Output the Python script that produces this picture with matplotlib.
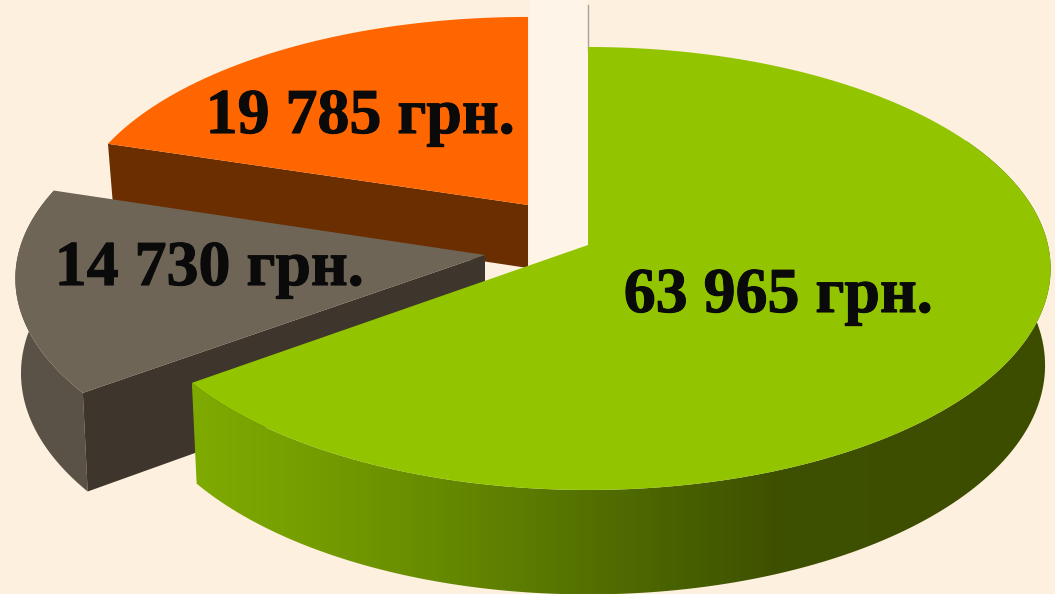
import numpy as np
import matplotlib
matplotlib.use("Agg")
import matplotlib.pyplot as plt
import matplotlib.patheffects as pe
from matplotlib.colors import LinearSegmentedColormap

names = ["green", "gray", "orange"]
values = [63965, 14730, 19785]
unit = "грн."

# layout of every exploded slice, in pixels
tips = {"green": (588, 245), "gray": (485, 255), "orange": (528, 205)}
radius_x = {"green": 460, "gray": 467, "orange": 455}
radius_y = {"green": 219, "gray": 219, "orange": 208}
depth = {"green": 96, "gray": 94, "orange": 63}
label_pos = {"green": (778, 297), "gray": (209, 270), "orange": (360, 118)}
top_col = {"green": "#92c500", "gray": "#6e6556", "orange": "#ff6600"}
front_col = {"gray": "#3e352c", "orange": "#6b2e00"}
arc_col = {"gray": "#5a5246"}

persp = 0.106
shrink = 0.012
bg = "#fdf0df"


def proj(name, theta, z=0.0):
    # theta clockwise from 12 o'clock, z=1 is the bottom of the slice
    tx, ty = tips[name]
    d = 1 + persp * np.cos(theta)
    s = 1 - shrink * z
    x = tx + radius_x[name] * np.sin(theta) / d * s
    y = ty - radius_y[name] * np.cos(theta) / d * s + depth[name] * z / d
    return x, y


total = sum(values)
ends = np.cumsum(values) / total * 2 * np.pi
starts = np.r_[0, ends[:-1]]
angle = {n: (a, b) for n, a, b in zip(names, starts, ends)}

fig = plt.figure(figsize=(10.55, 5.94), dpi=100, facecolor=bg)
ax = fig.add_axes([0, 0, 1, 1])
ax.set_xlim(0, 1055)
ax.set_ylim(594, 0)
ax.axis("off")

# pale band left open by the orange slice
ax.fill_between([530, 588], 0, 270, color="#fef4e7", lw=0, zorder=1)
ax.plot([588, 588], [5, 50], color="#a9a39a", lw=1, zorder=1)


def top_face(name, zorder):
    a, b = angle[name]
    th = np.linspace(a, b, 200)
    x, y = proj(name, th)
    tx, ty = tips[name]
    ax.fill(np.r_[tx, x], np.r_[ty, y], color=top_col[name], lw=0, zorder=zorder)


def arc_side(name, a, b):
    th = np.linspace(a, b, 200)
    x0, y0 = proj(name, th)
    x1, y1 = proj(name, th, 1.0)
    return np.r_[x0, x1[::-1]], np.r_[y0, y1[::-1]]


def cut_face(name, theta, zorder):
    # flat face between the slice centre and its rim
    tx, ty = tips[name]
    x0, y0 = proj(name, theta)
    x1, y1 = proj(name, theta, 1.0)
    d = depth[name]
    ax.fill([tx, x0, x1, tx], [ty, y0, y1, ty + d], color=front_col[name], lw=0, zorder=zorder)


# orange slice
cut_face("orange", angle["orange"][0], 2)
top_face("orange", 3)

# gray slice
gx, gy = arc_side("gray", *angle["gray"])
ax.fill(gx, gy, color=arc_col["gray"], lw=0, zorder=4)
cut_face("gray", angle["gray"][0], 5)
top_face("gray", 6)

# green slice, its rim fades from left to right
sx, sy = arc_side("green", np.radians(60), angle["green"][1])
poly = ax.fill(sx, sy, color="none", lw=0, zorder=7)[0]
cmap = LinearSegmentedColormap.from_list("rim", [
    (0.0, "#7fab00"), (0.15, "#749c00"), (0.33, "#628400"),
    (0.53, "#4c6600"), (0.68, "#3e5000"), (1.0, "#3d4d00")])
img = ax.imshow(np.linspace(0, 1, 256)[None, :], cmap=cmap, extent=[190, 1055, 594, 0],
                aspect="auto", zorder=7)
img.set_clip_path(poly)
ax.set_xlim(0, 1055)
ax.set_ylim(594, 0)
top_face("green", 8)

for n, v in zip(names, values):
    label = f"{v:,}".replace(",", " ") + " " + unit
    t = ax.text(*label_pos[n], label, family="Liberation Serif", weight="bold", fontsize=46,
                color="#0a0a0a", ha="center", va="center", zorder=10)
    t.set_path_effects([pe.withStroke(linewidth=0.8, foreground="#0a0a0a")])

fig.savefig("out.png", dpi=100, facecolor=bg)
